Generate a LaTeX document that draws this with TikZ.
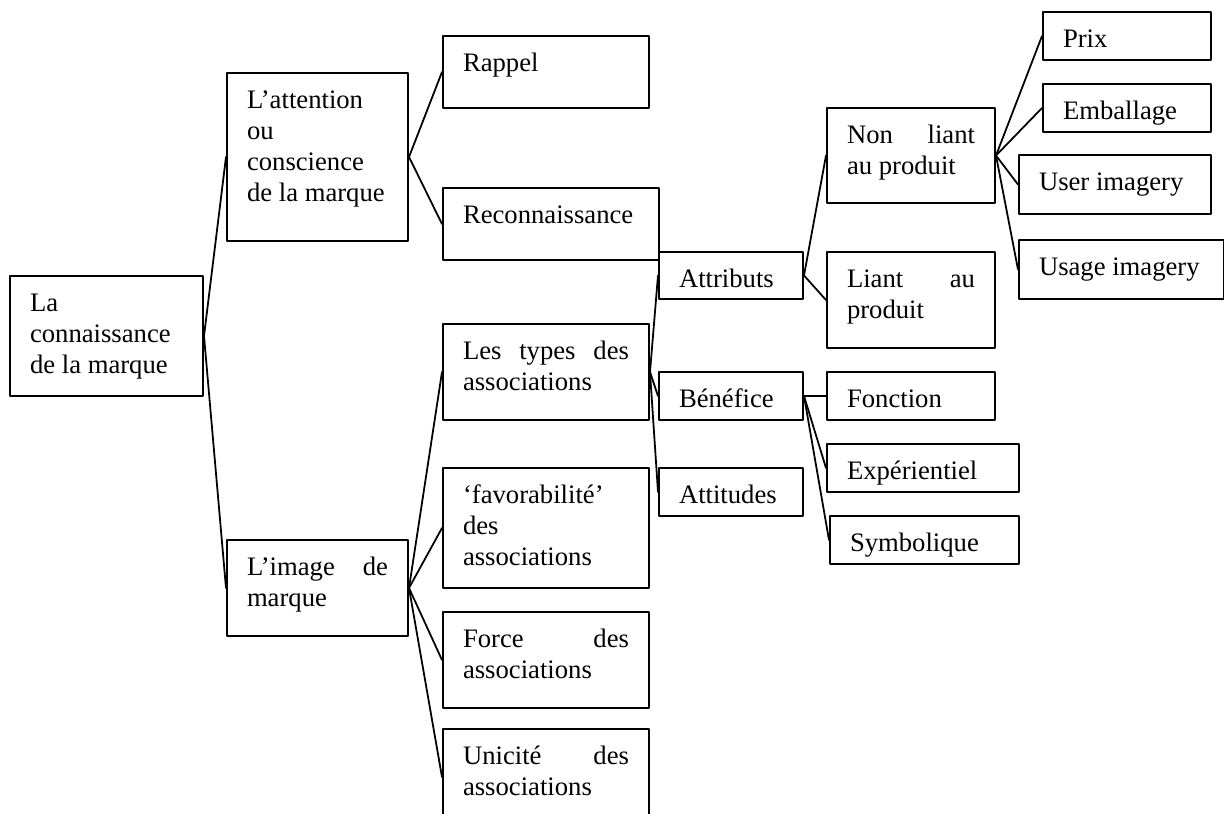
\documentclass[tikz,border=0pt]{standalone}
\usepackage{fontspec}
\setmainfont{Liberation Serif}
\newdimen\pxu \pxu=0.45pt
% boite : nom, x, y (coin haut gauche), largeur, hauteur, texte
\newcommand{\boite}[6]{%
  \node[boite] (#1) at (#2,#3) {\parbox[c][#5\pxu][t]{\dimexpr#4\pxu-40\pxu\relax}{\rule{0pt}{35\pxu}#6}};}

\begin{document}
\begin{tikzpicture}[x=0.45pt, y=-0.45pt, line join=round, line cap=round,
	boite/.style={draw, line width=0.9pt, anchor=north west, inner xsep=9pt, inner ysep=0pt, font=\fontsize{12}{14}\selectfont},
	lien/.style={line width=0.8pt}]
		\useasboundingbox (0,0) rectangle (1224,814);
		\clip (0,0) rectangle (1224,814);
		
		\boite{racine}{9}{275}{193}{120}{La\\connaissance\\de la marque}
		\boite{attention}{226}{72}{181}{168}{L’attention\\ou\\conscience\\de la marque}
		\boite{image}{226}{539}{181}{96}{L’image\hfill de\\marque}
		\boite{rappel}{442}{35}{206}{72}{Rappel}
		\boite{recon}{442}{187}{216}{72}{Reconnaissance}
		\boite{types}{442}{323}{206}{96}{Les\hfill types\hfill des\\associations}
		\boite{favor}{442}{467}{206}{120}{‘favorabilité’\\des\\associations}
		\boite{force}{442}{611}{206}{96}{Force\hfill des\\associations}
		\boite{unicite}{442}{728}{206}{96}{Unicité\hfill des\\associations}
		\boite{attributs}{658}{251}{144}{47}{Attributs}
		\boite{benefice}{658}{371}{144}{48}{Bénéfice}
		\boite{attitudes}{658}{467}{144}{48}{Attitudes}
		\boite{nonliant}{826}{107}{168}{95}{Non\hfill liant\\au produit}
		\boite{liant}{826}{251}{168}{96}{Liant\hfill au\\produit}
		\boite{prix}{1042}{11}{168}{48}{Prix}
		\boite{emballage}{1042}{83}{168}{48}{Emballage}
		\boite{user}{1018}{154}{192}{59}{User imagery}
		\boite{usage}{1018}{239}{205}{59}{Usage imagery}
		\boite{fonction}{826}{371}{168}{48}{Fonction}
		\boite{experientiel}{826}{443}{192}{48}{Expérientiel}
		\boite{symbolique}{829}{515}{189}{48}{Symbolique}
		
		\foreach \b in {attention, image}
		\draw[lien] (racine.east) -- (\b.west);
		\foreach \b in {rappel, recon}
		\draw[lien] (attention.east) -- (\b.west);
		\foreach \b in {types, favor, force, unicite}
		\draw[lien] (image.east) -- (\b.west);
		\foreach \b in {attributs, benefice, attitudes}
		\draw[lien] (types.east) -- (\b.west);
		\foreach \b in {nonliant, liant}
		\draw[lien] (attributs.east) -- (\b.west);
		\foreach \b in {prix, emballage, user, usage}
		\draw[lien] (nonliant.east) -- (\b.west);
		\foreach \b in {fonction, experientiel, symbolique}
		\draw[lien] (benefice.east) -- (\b.west);
		
	\end{tikzpicture}
\end{document}
